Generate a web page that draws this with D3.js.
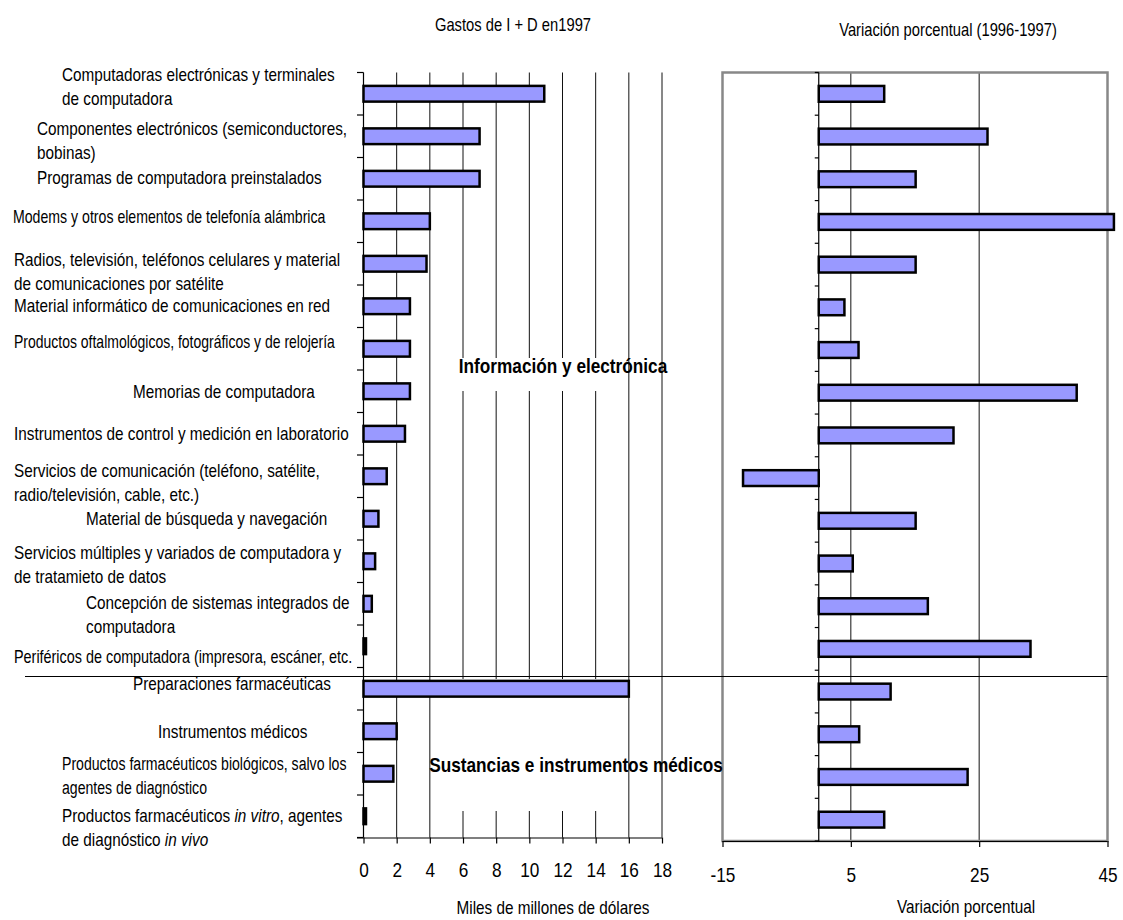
<!DOCTYPE html>
<html>
<head>
<meta charset="utf-8">
<script src="https://cdn.jsdelivr.net/npm/d3@7"></script>
<style>
  html, body { margin: 0; padding: 0; background: #fff; }
  svg { display: block; }
  text { font-family: "Liberation Sans", Arial, sans-serif; fill: #000; }
</style>
</head>
<body>
<svg id="chart" width="1123" height="920"></svg>
<script>
// Industry categories (line breaks with \n, italic runs wrapped in *...*)
const categories = [
  "Computadoras electrónicas y terminales\nde computadora",
  "Componentes electrónicos (semiconductores,\nbobinas)",
  "Programas de computadora preinstalados",
  "Modems y otros elementos de telefonía alámbrica",
  "Radios, televisión, teléfonos celulares y material\nde comunicaciones por satélite",
  "Material informático de comunicaciones en red",
  "Productos oftalmológicos, fotográficos y de relojería",
  "Memorias de computadora",
  "Instrumentos de control y medición en laboratorio",
  "Servicios de comunicación (teléfono, satélite,\nradio/televisión, cable, etc.)",
  "Material de búsqueda y navegación",
  "Servicios múltiples y variados de computadora y\nde tratamieto de datos",
  "Concepción de sistemas integrados de\ncomputadora",
  "Periféricos de computadora (impresora, escáner, etc.",
  "Preparaciones farmacéuticas",
  "Instrumentos médicos",
  "Productos farmacéuticos biológicos, salvo los\nagentes de diagnóstico",
  "Productos farmacéuticos *in vitro*, agentes\nde diagnóstico *in vivo*"
];

// R&D spending in 1997 (billions of dollars)
const gasto1997 = [10.9, 7.0, 7.0, 4.0, 3.8, 2.8, 2.8, 2.8, 2.5, 1.4, 0.9, 0.7, 0.5, 0.15, 16.0, 2.0, 1.8, 0.15];

// Percentage change 1996-1997
const variacion = [10.2, 26.3, 15.1, 46.0, 15.1, 4.0, 6.2, 40.2, 21.0, -11.8, 15.1, 5.3, 17.0, 33.0, 11.2, 6.3, 23.2, 10.2];

const gastoTicks = [0, 2, 4, 6, 8, 10, 12, 14, 16, 18];
const variacionTicks = [-15, 5, 25, 45];

const groupLabels = ["Información y electrónica", "Sustancias e instrumentos médicos"];

// Text block of each category: left x, vertical offset from band centre, horizontal squeeze
const labelLayout = [
  [62, -19, 0.85], [37, -8, 0.85], [37, -1, 0.85], [13, -5, 0.785], [14, -4, 0.85], [14, -1, 0.85],
  [14, -7, 0.777], [133, 0, 0.85], [14, 0, 0.85], [14, -6, 0.85], [86, 0, 0.85], [14, -9, 0.85],
  [86, -1, 0.85], [14, 10, 0.80], [133, -5, 0.85], [158, 0, 0.85], [62, -10, 0.784], [62, -1, 0.85]
];

const SX = 0.82; // horizontal squeeze giving a narrow typeface
const svg = d3.select("#chart");
const idx = d3.range(categories.length);
const BAR_FILL = "#9999ff";

// text drawn inside a horizontally condensed group
function narrowText(parent, x, y, size, anchor, sx) {
  return parent.append("g")
    .attr("transform", `translate(${x},${y}) scale(${sx || SX},1)`)
    .append("text")
    .attr("x", 0).attr("y", 0).attr("dy", "0.35em")
    .attr("font-size", size)
    .attr("text-anchor", anchor || "start");
}

// ---------- Left panel: spending ----------
const xL = d3.scaleLinear().domain([0, 18]).range([363.5, 662]);
const yL = d3.scaleBand().domain(idx).range([72.5, 837.5]);

const left = svg.append("g");

// vertical gridlines
left.selectAll("line.grid").data(gastoTicks.slice(1)).join("line")
  .attr("x1", d => xL(d)).attr("x2", d => xL(d))
  .attr("y1", 72.5).attr("y2", 837.5)
  .attr("stroke", "#111").attr("stroke-width", 1);

// white boxes behind the group captions
left.append("rect").attr("x", 442).attr("y", 358).attr("width", 174).attr("height", 33).attr("fill", "#fff");
left.append("rect").attr("x", 442).attr("y", 679).attr("width", 174).attr("height", 132).attr("fill", "#fff");

// bottom axis
const axL = left.append("g").attr("transform", "translate(0,837.5)")
  .call(d3.axisBottom(xL).tickValues(gastoTicks).tickSize(6).tickPadding(19).tickFormat(d => String(d)));
axL.select(".domain").attr("stroke", "#000").attr("stroke-width", 1.2).attr("d", "M357,0.5H662");
axL.selectAll(".tick line").attr("stroke", "#000").attr("stroke-width", 1.2);
axL.selectAll(".tick text").attr("font-size", 21).attr("font-family", null)
  .attr("transform", `scale(${SX},1)`);

// left axis (category boundaries as ticks)
const yBounds = idx.map(i => yL(i)).concat([837.5]);
left.append("line").attr("x1", 363.5).attr("x2", 363.5).attr("y1", 72.5).attr("y2", 837.5)
  .attr("stroke", "#000").attr("stroke-width", 1.2);
left.selectAll("line.ytick").data(yBounds).join("line")
  .attr("x1", 357).attr("x2", 363.5).attr("y1", d => d).attr("y2", d => d)
  .attr("stroke", "#000").attr("stroke-width", 1.2);

// bars
const bhL = yL.bandwidth() * 0.37;
left.selectAll("rect.bar").data(gasto1997).join("rect")
  .attr("x", xL(0))
  .attr("y", (d, i) => yL(i) + yL.bandwidth() / 2 - bhL / 2)
  .attr("width", d => xL(d) - xL(0))
  .attr("height", bhL)
  .attr("fill", BAR_FILL).attr("stroke", "#000").attr("stroke-width", 2.5);

// ---------- Right panel: percentage change ----------
const xR = d3.scaleLinear().domain([-15, 45]).range([722.5, 1107.5]);
const yR = d3.scaleBand().domain(idx).range([72.5, 841]);

const right = svg.append("g");

right.selectAll("line.grid").data([5, 25]).join("line")
  .attr("x1", d => xR(d)).attr("x2", d => xR(d))
  .attr("y1", 72.5).attr("y2", 841)
  .attr("stroke", "#111").attr("stroke-width", 1);

// plot-area frame
right.append("rect").attr("x", 722.5).attr("y", 72.5).attr("width", 385).attr("height", 768.5)
  .attr("fill", "none").attr("stroke", "#888").attr("stroke-width", 2.5);

const axR = right.append("g").attr("transform", "translate(0,841)")
  .call(d3.axisBottom(xR).tickValues(variacionTicks).tickSize(6).tickPadding(20).tickFormat(d => String(d)));
axR.select(".domain").attr("stroke", "#000").attr("stroke-width", 1.2).attr("d", "M722.5,0.5H1107.5");
axR.selectAll(".tick line").attr("stroke", "#000").attr("stroke-width", 1.2);
axR.selectAll(".tick text").attr("font-size", 21).attr("font-family", null)
  .attr("transform", `scale(${SX},1)`);

const yBoundsR = idx.map(i => yR(i)).concat([841]);
right.append("line").attr("x1", xR(0)).attr("x2", xR(0)).attr("y1", 72.5).attr("y2", 841)
  .attr("stroke", "#000").attr("stroke-width", 1.2);
right.selectAll("line.ytick").data(yBoundsR).join("line")
  .attr("x1", xR(0) - 4).attr("x2", xR(0)).attr("y1", d => d).attr("y2", d => d)
  .attr("stroke", "#000").attr("stroke-width", 1.2);

const bhR = yR.bandwidth() * 0.37;
right.selectAll("rect.bar").data(variacion).join("rect")
  .attr("x", d => xR(Math.min(0, d)))
  .attr("y", (d, i) => yR(i) + yR.bandwidth() / 2 - bhR / 2)
  .attr("width", d => Math.abs(xR(d) - xR(0)))
  .attr("height", bhR)
  .attr("fill", BAR_FILL).attr("stroke", "#000").attr("stroke-width", 2.5);

// ---------- separator between the two industry groups ----------
svg.append("line").attr("x1", 25).attr("x2", 1107.5).attr("y1", 676.5).attr("y2", 676.5)
  .attr("stroke", "#000").attr("stroke-width", 1);

// ---------- category labels ----------
const labels = svg.append("g");
categories.forEach((cat, i) => {
  const [lx, off, sq] = labelLayout[i];
  const cy = yL(i) + yL.bandwidth() / 2 + off;
  const t = narrowText(labels, lx, cy, 18, "start", sq);
  cat.split("\n").forEach((line, li) => {
    const parts = line.split("*");
    parts.forEach((p, pi) => {
      if (!p) return;
      const ts = t.append("tspan").text(p);
      if (pi === 0) ts.attr("x", 0).attr("dy", li === 0 ? null : 24);
      if (pi % 2 === 1) ts.attr("font-style", "italic");
    });
  });
});

// ---------- group captions ----------
narrowText(svg, 563, 366, 21, "middle").attr("font-weight", "bold").text(groupLabels[0]);
narrowText(svg, 576, 765, 21, "middle").attr("font-weight", "bold").text(groupLabels[1]);

// ---------- titles ----------
narrowText(svg, 513, 25, 18, "middle").text("Gastos de I + D en1997");
narrowText(svg, 948, 30, 18, "middle").text("Variación porcentual (1996-1997)");
narrowText(svg, 553, 908, 18, "middle", 0.85).text("Miles de millones de dólares");
narrowText(svg, 966, 907, 18, "middle", 0.85).text("Variación porcentual");
</script>
</body>
</html>
